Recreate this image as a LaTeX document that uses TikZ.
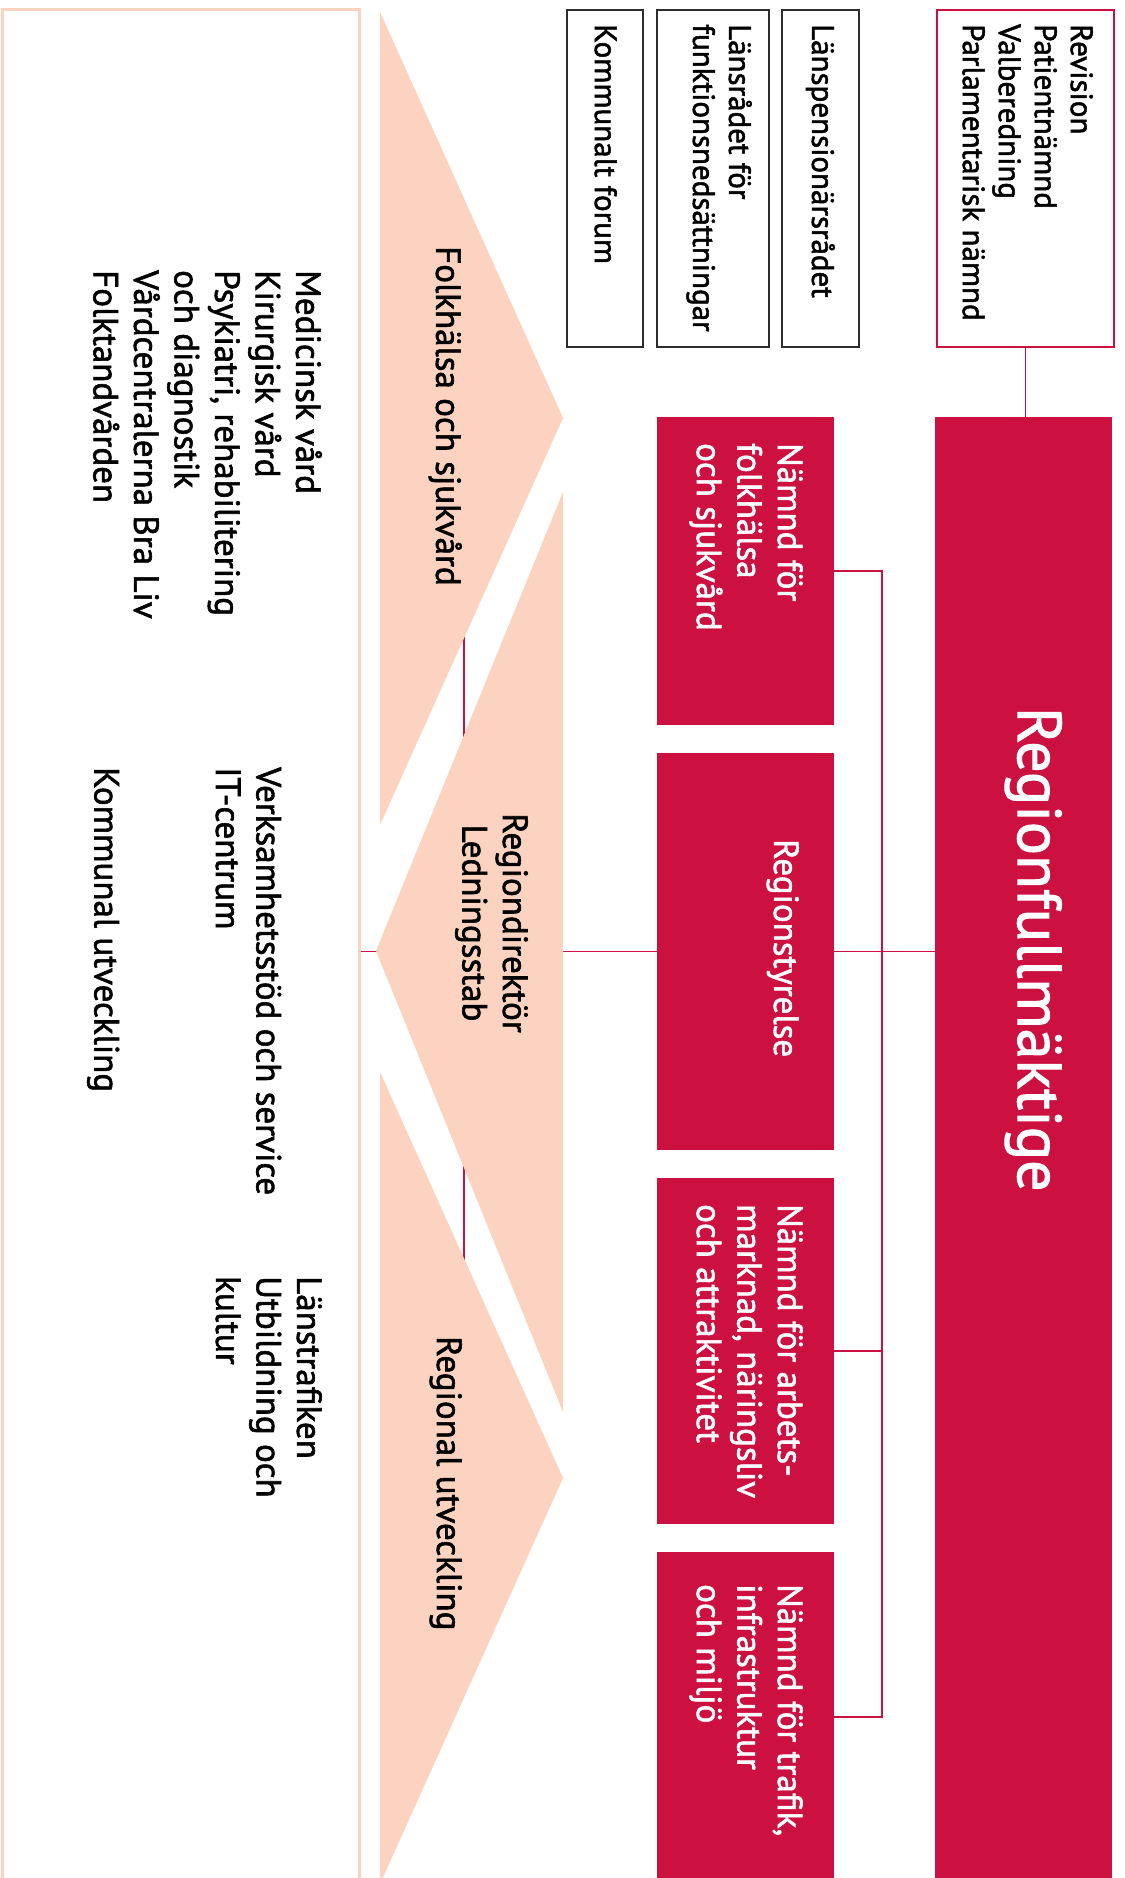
\documentclass[tikz,border=0pt]{standalone}
\usepackage{fontspec}
\setmainfont{PT Sans}[FakeBold=1.6]
\usepackage{xcolor}
\usetikzlibrary{shapes}
\definecolor{rred}{RGB}{204,16,64}
\definecolor{peach}{RGB}{251,211,192}
\definecolor{frame}{RGB}{45,45,45}
\tikzset{
  link/.style={draw=rred, line width=1.8pt},
  redbox/.style={fill=rred, draw=none, minimum width=177pt, inner sep=0},
  revbox/.style={draw=rred, fill=white, line width=2pt, inner sep=0},
  councilbox/.style={draw=frame, fill=white, line width=2.2pt, minimum height=337pt, inner sep=0},
  unitframe/.style={draw=peach, line width=3pt, inner sep=0},
  vtext/.style={rotate=-90, anchor=north west, inner sep=0, align=left},
  smallfont/.style={font=\fontsize{31}{36}\selectfont},
  midfont/.style={font=\fontsize{35}{40.5}\selectfont},
}

\begin{document}
\begin{tikzpicture}[x=1pt,y=-1pt]
    \def\bx{745.5}
    \def\tx{803}
    \clip (0,0) rectangle (1124,1878);
    \fill[white] (0,0) rectangle (1124,1878);
    % unit frame on the left
    \node[unitframe, minimum width=357pt, minimum height=1900pt] (units) at (180.5,960) {};
    % boxes
    \node[redbox, minimum height=308pt] (nf) at (\bx,571) {};
    \node[redbox, minimum height=397pt] (rs) at (\bx,951.5) {};
    \node[redbox, minimum height=346pt] (na) at (\bx,1351) {};
    \node[redbox, minimum height=330pt] (nt) at (\bx,1717) {};
    \node[redbox, minimum height=1480pt] (rf) at (1023.5,1157) {};
    \node[revbox, minimum width=177pt, minimum height=337pt] (rev) at (1025.5,178.5) {};
    \coordinate (br) at (882,0);
    \coordinate (fa) at (464,600);
    \coordinate (ra) at (464,1300);
    % lines (behind the shapes)
    \draw[link] (units.east |- rs.center) -- (rf.west |- rs.center);
    \draw[link] (fa) -- (ra);
    \draw[link] (rev.south) -- (rev.south |- rf.north);
    \draw[link] (nf.east) -- (nf.east -| br) -- (nt.east -| br) -- (nt.east);
    \draw[link] (na.east) -- (na.east -| br);
    % chevrons
    \fill[peach] (380,12) -- (563,418) -- (380,825) -- cycle;
    \fill[peach] (563,492) -- (376,951) -- (563,1412) -- cycle;
    \fill[peach] (380,1072) -- (563,1478) -- (380,1884) -- cycle;
    % boxes again on top of the lines
    \node[redbox, minimum height=308pt] at (nf) {};
    \node[redbox, minimum height=397pt] at (rs) {};
    \node[redbox, minimum height=346pt] at (na) {};
    \node[redbox, minimum height=330pt] at (nt) {};
    \node[redbox, minimum height=1480pt] at (rf) {};
    \node[councilbox, minimum width=77pt] (lp) at (820.5,178.5) {};
    \node[councilbox, minimum width=112pt] (lr) at (713,178.5) {};
    \node[councilbox, minimum width=76pt] (kf) at (605,178.5) {};
    % texts
    \node[vtext, smallfont] (tRev) at (1093,24) {Revision\\Patientnämnd\\Valberedning\\Parlamentarisk nämnd};
    \node[vtext, smallfont] (tLp) at (835,24) {Länspensionärsrådet};
    \node[vtext, smallfont] (tLr) at (752,24) {Länsrådet för\\funktionsnedsättningar};
    \node[vtext, smallfont] (tKf) at (617,24) {Kommunalt forum};
    \node[vtext, midfont, white] (tNf) at (\tx,443) {Nämnd för\\folkhälsa\\och sjukvård};
    \node[vtext, midfont, white] (tRs) at (799,839) {Regionstyrelse};
    \node[vtext, midfont, white] (tNa) at (\tx,1204) {Nämnd för arbets-\\marknad, näringsliv\\och attraktivitet};
    \node[vtext, midfont, white] (tNt) at (\tx,1584) {Nämnd för trafik,\\infrastruktur\\och miljö};
    \node[vtext, white, font=\fontsize{62}{70}\selectfont] (tRf) at (1062,707) {Regionfullmäktige};
    \node[vtext, midfont] (tFolk) at (462,246) {Folkhälsa och sjukvård};
    \node[vtext, midfont, anchor=north, align=center] (tLed) at (528,923) {Regiondirektör\\Ledningsstab};
    \node[vtext, midfont] (tReg) at (462,1336) {Regional utveckling};
    \node[vtext, midfont] (tVard) at (322,270) {Medicinsk vård\\Kirurgisk vård\\Psykiatri, rehabilitering\\och diagnostik\\Vårdcentralerna Bra Liv\\Folktandvården};
    \node[vtext, midfont] (tVerk) at (281.5,767) {Verksamhetsstöd och service\\IT-centrum};
    \node[vtext, midfont] (tKomU) at (119.5,767) {Kommunal utveckling};
    \node[vtext, midfont] (tLans) at (322,1276) {Länstrafiken\\Utbildning och\\kultur};
\end{tikzpicture}
\end{document}
